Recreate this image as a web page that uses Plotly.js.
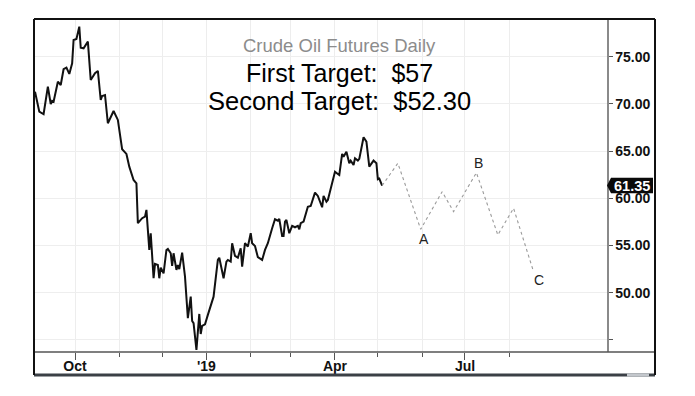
<!DOCTYPE html>
<html>
<head>
<meta charset="utf-8">
<script src="https://cdn.plot.ly/plotly-3.0.1.min.js"></script>
<style>html,body{margin:0;padding:0;background:#fff;}#chart{width:695px;height:396px;}</style>
</head>
<body>
<div id="chart"></div>
<script>
// ---- data ----
var priceDates = ['2018-09-03','2018-09-06','2018-09-09','2018-09-12','2018-09-14','2018-09-15','2018-09-16','2018-09-19','2018-09-21','2018-09-23','2018-09-25','2018-09-27','2018-09-29','2018-09-30',
'2018-10-02','2018-10-04','2018-10-05','2018-10-07','2018-10-10','2018-10-12','2018-10-15','2018-10-17','2018-10-19','2018-10-20','2018-10-22','2018-10-24','2018-10-28','2018-10-31',
'2018-11-03','2018-11-06','2018-11-08','2018-11-11','2018-11-13','2018-11-14','2018-11-17','2018-11-19','2018-11-20','2018-11-22','2018-11-23','2018-11-25','2018-11-26','2018-11-28','2018-11-29','2018-11-30',
'2018-12-02','2018-12-04','2018-12-05','2018-12-07','2018-12-08','2018-12-09','2018-12-11','2018-12-12','2018-12-13','2018-12-15','2018-12-17','2018-12-19','2018-12-21','2018-12-22','2018-12-23','2018-12-25','2018-12-27','2018-12-28','2018-12-29','2018-12-31',
'2019-01-02','2019-01-04','2019-01-06','2019-01-09','2019-01-10','2019-01-13','2019-01-15','2019-01-16','2019-01-18','2019-01-19','2019-01-21','2019-01-23','2019-01-25','2019-01-26','2019-01-28','2019-01-30',
'2019-02-01','2019-02-02','2019-02-04','2019-02-06','2019-02-09','2019-02-11','2019-02-13','2019-02-16','2019-02-18','2019-02-20','2019-02-21','2019-02-23','2019-02-24','2019-02-25','2019-02-26','2019-02-28',
'2019-03-02','2019-03-04','2019-03-06','2019-03-07','2019-03-08','2019-03-10','2019-03-12','2019-03-13','2019-03-15','2019-03-16','2019-03-18','2019-03-20','2019-03-21','2019-03-23','2019-03-24','2019-03-26','2019-03-27','2019-03-29',
'2019-04-01','2019-04-03','2019-04-04','2019-04-06','2019-04-07','2019-04-09','2019-04-11','2019-04-12','2019-04-14','2019-04-15','2019-04-17','2019-04-18','2019-04-21','2019-04-23','2019-04-25','2019-04-28','2019-04-30',
'2019-05-01','2019-05-02','2019-05-04'];
var priceValues = [71.29,69.17,68.90,71.82,69.99,70.31,70.23,72.35,72.00,73.67,73.84,73.17,74.30,76.77,
76.87,78.18,75.95,75.89,76.59,72.53,73.24,73.49,70.41,70.84,70.94,67.95,69.25,68.30,
65.19,64.70,63.35,61.94,61.59,57.36,57.89,58.06,58.77,54.53,56.30,51.53,53.05,52.94,51.53,52.65,
52.06,54.53,54.64,54.18,52.83,54.18,52.41,52.94,52.49,54.24,51.70,47.30,49.58,47.01,46.77,43.94,47.75,45.63,46.48,46.66,
47.65,48.53,49.58,53.47,53.71,51.53,53.29,53.47,53.29,55.24,53.89,53.71,54.71,52.76,55.24,54.88,
56.30,55.24,54.95,53.76,53.47,54.53,55.24,56.83,57.78,57.63,57.81,56.01,56.01,57.53,57.71,56.30,
57.07,56.93,57.07,56.72,57.36,57.53,58.77,59.11,59.19,59.64,60.60,60.25,59.82,59.05,60.25,59.64,59.82,61.06,
62.82,62.58,62.47,64.70,64.41,64.94,63.71,63.99,63.53,64.24,63.99,64.17,66.46,66.00,63.35,63.99,63.71,
62.02,62.08,61.35];

var projDates = ['2019-05-04','2019-05-15','2019-05-31','2019-06-15','2019-06-23','2019-07-09','2019-07-24','2019-08-04','2019-08-18'];
var projValues = [61.35,63.71,56.72,60.70,58.59,62.71,56.12,58.95,52.23];

var waveLabels = ['A','B','C'];
var waveIndex = [2,5,8];

var lastPrice = 61.35;
var lastPriceText = '61.35';

var titleLines = ['Crude Oil Futures Daily', 'First Target:\u00a0 $57', 'Second Target:\u00a0 $52.30'];

var monthTicks = ['2018-10-01','2018-11-01','2018-12-01','2019-01-01','2019-02-01','2019-03-01','2019-04-01','2019-05-01','2019-06-01','2019-07-01','2019-08-01'];
var labelTicks = ['2018-10-01','2019-01-01','2019-04-01','2019-07-01'];
var labelTickText = ['Oct', "'19", 'Apr', 'Jul'];
var yTickVals = [45,50,55,60,65,70,75];
var yTickText = ['','50.00','55.00','60.00','65.00','70.00','75.00'];

// ---- layout constants ----
var FONT = 'Liberation Sans, Arial, Helvetica, sans-serif';
var W = 695, H = 396;
var mL = 34, mR = 88, mT = 19, mB = 44;
var plotW = W - mL - mR, plotH = H - mT - mB;
var xRange = ['2018-09-02 07:00','2019-10-08 10:00'];
var yRange = [43.72, 78.99];
var unitPerPx = (yRange[1]-yRange[0]) / plotH;
function px2paperX(px){ return (px - mL) / plotW; }
function px2paperY(py){ return (H - mB - py) / plotH; }

var traces = [
  {x: priceDates, y: priceValues, type: 'scatter', mode: 'lines',
   line: {color: '#111111', width: 2}, hoverinfo: 'skip'},
  {x: projDates, y: projValues, type: 'scatter', mode: 'lines', xaxis: 'x2',
   line: {color: '#9a9a9a', width: 1.1, dash: 'dot'}, hoverinfo: 'skip'}
];

var annotations = [];
var titleY = [46, 72.5, 101];
var titleSize = [18.5, 25, 25.5];
var titleColor = ['#8c8c8c', '#000000', '#000000'];
titleLines.forEach(function(t, i){
  annotations.push({xref: 'paper', yref: 'paper', x: px2paperX(339), y: px2paperY(titleY[i]),
    xanchor: 'center', yanchor: 'middle', showarrow: false, text: t,
    font: {family: FONT, size: titleSize[i], color: titleColor[i]}});
});
var waveShift = [[3,-10],[2,10],[5,-8]];
waveLabels.forEach(function(lbl, i){
  var k = waveIndex[i];
  annotations.push({xref: 'x2', yref: 'y', x: projDates[k], y: projValues[k],
    xanchor: 'center', yanchor: 'middle', showarrow: false, text: lbl,
    xshift: waveShift[i][0], yshift: waveShift[i][1],
    font: {family: FONT, size: 14, color: '#222222'}});
});
annotations.push({xref: 'paper', yref: 'y', x: px2paperX(632), y: lastPrice,
  xanchor: 'center', yanchor: 'middle', showarrow: false, text: lastPriceText,
  font: {family: FONT, size: 14.5, color: '#ffffff', weight: 'bold'}});

var half = 7.7 * unitPerPx;
var xa = px2paperX(607), xb = px2paperX(611), xe = px2paperX(653);
var tagPath = 'M ' + xa + ' ' + lastPrice + ' L ' + xb + ' ' + (lastPrice + half) +
  ' L ' + xe + ' ' + (lastPrice + half) + ' L ' + xe + ' ' + (lastPrice - half) +
  ' L ' + xb + ' ' + (lastPrice - half) + ' Z';

var xFar = px2paperX(655);
var yBot = px2paperY(375);
var shapes = [
  {type: 'line', xref: 'paper', yref: 'paper', x0: 0, x1: xFar, y0: 0, y1: 0, line: {color: '#555555', width: 1.5}},
  {type: 'line', xref: 'paper', yref: 'paper', x0: 0, x1: xFar, y0: yBot, y1: yBot, line: {color: '#3b4046', width: 3}},
  {type: 'line', xref: 'paper', yref: 'paper', x0: px2paperX(627), x1: px2paperX(649), y0: yBot, y1: yBot, line: {color: '#c3c7cc', width: 3}},
  {type: 'line', xref: 'paper', yref: 'paper', x0: 0, x1: xFar, y0: 1, y1: 1, line: {color: '#111111', width: 2}},
  {type: 'line', xref: 'paper', yref: 'paper', x0: 0, x1: 0, y0: yBot, y1: 1, line: {color: '#111111', width: 2}},
  {type: 'line', xref: 'paper', yref: 'paper', x0: xFar, x1: xFar, y0: yBot, y1: 1, line: {color: '#111111', width: 2}},
  {type: 'path', xref: 'paper', yref: 'y', path: tagPath, fillcolor: '#0a0a0a', line: {width: 0}}
];

var layout = {
  width: W, height: H,
  margin: {l: mL, r: mR, t: mT, b: mB, pad: 0},
  paper_bgcolor: '#ffffff', plot_bgcolor: '#ffffff',
  showlegend: false, hovermode: false,
  xaxis: {type: 'date', range: xRange, tickmode: 'array', tickvals: monthTicks,
    ticktext: monthTicks.map(function(){return '';}),
    showgrid: true, gridcolor: '#ededed', gridwidth: 1, zeroline: false, showline: false,
    ticks: 'outside', ticklen: 3.5, tickwidth: 1, tickcolor: '#555555', fixedrange: true},
  xaxis2: {type: 'date', range: xRange, overlaying: 'x', anchor: 'y', side: 'bottom',
    tickmode: 'array', tickvals: labelTicks, ticktext: labelTickText,
    showgrid: false, zeroline: false, showline: false,
    ticks: 'outside', ticklen: 7, tickwidth: 1, tickcolor: '#555555', ticklabelstandoff: -6,
    tickfont: {family: FONT, size: 14, color: '#111111', weight: 'bold'}, fixedrange: true},
  yaxis: {range: yRange, side: 'right', tickmode: 'array', tickvals: yTickVals, ticktext: yTickText,
    showgrid: true, gridcolor: '#eeeeee', gridwidth: 1, zeroline: false,
    showline: true, linecolor: '#8a8a8a', linewidth: 1.5,
    ticks: 'outside', ticklen: 4, tickwidth: 1, tickcolor: '#555555',
    tickfont: {family: FONT, size: 14, color: '#111111', weight: 'bold'}, fixedrange: true},
  annotations: annotations,
  shapes: shapes
};

Plotly.newPlot('chart', traces, layout, {staticPlot: true, displayModeBar: false});
</script>
</body>
</html>
